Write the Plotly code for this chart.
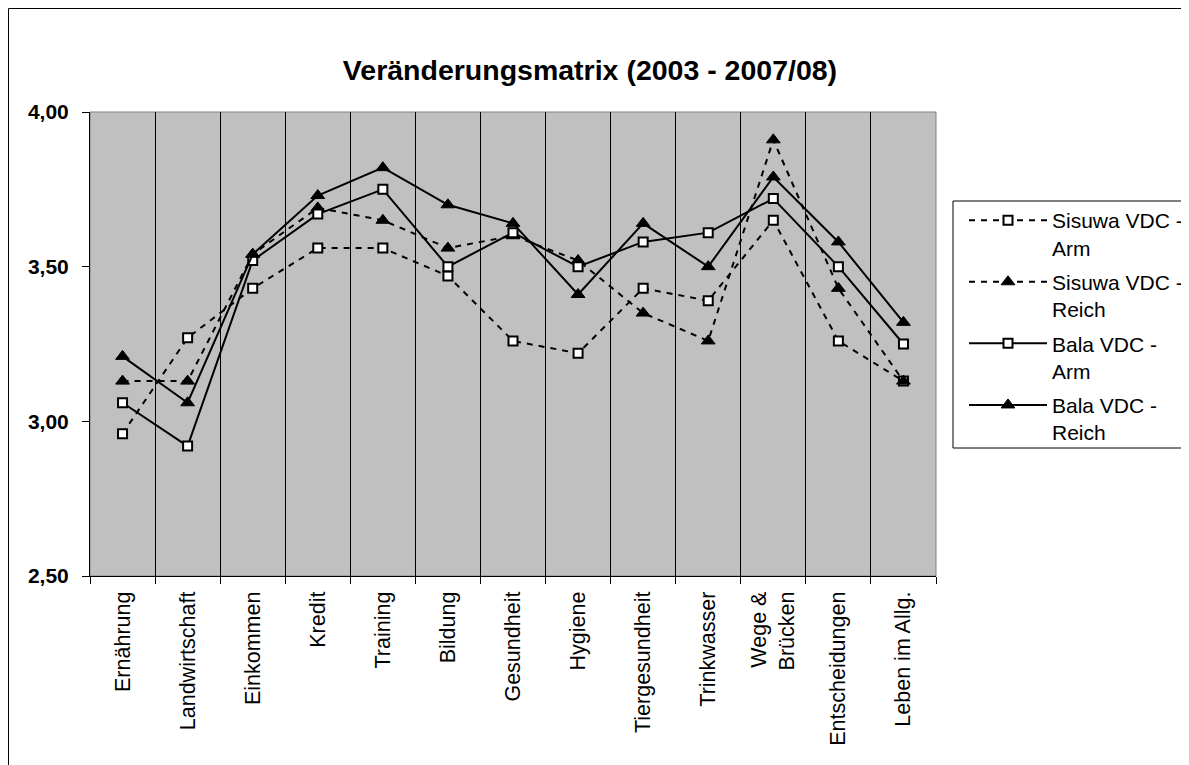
import plotly.graph_objects as go

# categories on the x axis
categories = [
    "Ernährung", "Landwirtschaft", "Einkommen", "Kredit", "Training",
    "Bildung", "Gesundheit", "Hygiene", "Tiergesundheit", "Trinkwasser",
    "Wege &<br>Brücken", "Entscheidungen", "Leben im Allg.",
]

# series values
sisuwa_arm = [2.96, 3.27, 3.43, 3.56, 3.56, 3.47, 3.26, 3.22, 3.43, 3.39, 3.65, 3.26, 3.13]
sisuwa_reich = [3.13, 3.13, 3.54, 3.69, 3.65, 3.56, 3.60, 3.52, 3.35, 3.26, 3.91, 3.43, 3.13]
bala_arm = [3.06, 2.92, 3.52, 3.67, 3.75, 3.50, 3.61, 3.50, 3.58, 3.61, 3.72, 3.50, 3.25]
bala_reich = [3.21, 3.06, 3.54, 3.73, 3.82, 3.70, 3.64, 3.41, 3.64, 3.50, 3.79, 3.58, 3.32]

y_ticks = [2.5, 3.0, 3.5, 4.0]

FONT = "Arial, Liberation Sans, sans-serif"
# page has an 8px body margin, so figure coords = screen coords - 8;
# the figure runs past the window so the frame's right/bottom edges stay hidden
W, H = 1189, 765
L, R, T, B = 82, 261, 104, 197
PW, PH = W - L - R, H - T - B


def px_x(px):
    return (px - L) / PW


def px_y(py):
    return (H - B - py) / PH


square = dict(symbol="square", size=9, color="white", line=dict(color="black", width=2))
triangle = dict(symbol="triangle-up", size=12, color="black", line=dict(color="black", width=1))

series = [
    ("Sisuwa VDC -<br>Arm", sisuwa_arm, "6px,6px", square),
    ("Sisuwa VDC -<br>Reich", sisuwa_reich, "6px,6px", triangle),
    ("Bala VDC -<br>Arm", bala_arm, "solid", square),
    ("Bala VDC -<br>Reich", bala_reich, "solid", triangle),
]

fig = go.Figure()
for i, (name, values, dash, marker) in enumerate(series):
    fig.add_trace(
        go.Scatter(
            x=categories,
            y=values,
            name=name,
            legendgroup=f"g{i}",
            mode="lines+markers",
            line=dict(color="black", width=2, dash=dash),
            marker=marker,
        )
    )

# outer chart frame (cut off at right/bottom) and legend frame
fig.add_shape(
    type="rect", xref="paper", yref="paper",
    x0=px_x(0.5), x1=px_x(1250), y0=px_y(820), y1=px_y(0.5),
    line=dict(color="black", width=1), fillcolor="rgba(0,0,0,0)", layer="below",
)
fig.add_shape(
    type="rect", xref="paper", yref="paper",
    x0=px_x(945), x1=px_x(1250), y0=px_y(440), y1=px_y(193),
    line=dict(color="black", width=1), fillcolor="white",
)
# gray border of plot area
fig.add_shape(
    type="rect", xref="paper", yref="paper",
    x0=0, x1=1, y0=0, y1=1,
    line=dict(color="#808080", width=1), fillcolor="rgba(0,0,0,0)", layer="below",
)

fig.update_layout(
    width=W,
    height=H,
    margin=dict(l=L, r=R, t=T, b=B),
    paper_bgcolor="white",
    plot_bgcolor="#C0C0C0",
    separators=",.",
    font=dict(family=FONT, color="black"),
    title=dict(
        text="<b>Veränderungsmatrix (2003 - 2007/08)</b>",
        font=dict(size=28.5, family=FONT, color="black"),
        xref="container", x=582 / W, xanchor="center",
        yref="container", y=1 - 62 / H, yanchor="middle",
    ),
    showlegend=True,
    legend=dict(
        xref="container", yref="container",
        x=956 / W, y=1 - 192 / H, xanchor="left", yanchor="top",
        bgcolor="rgba(0,0,0,0)",
        borderwidth=0,
        font=dict(size=21, family=FONT, color="black"),
        itemwidth=78,
        valign="top",
        tracegroupgap=4,
    ),
)

fig.update_xaxes(
    type="category",
    range=[-0.5, len(categories) - 0.5],
    tickson="boundaries",
    showgrid=True,
    gridcolor="black",
    gridwidth=1,
    showline=True,
    linecolor="black",
    linewidth=1,
    ticks="outside",
    ticklen=7,
    tickcolor="black",
    tickangle=-90,
    tickfont=dict(size=21.5, family=FONT, color="black"),
    ticklabelstandoff=6,
)

fig.update_yaxes(
    range=[2.5, 4.0],
    tickvals=y_ticks,
    tickformat=".2f",
    showgrid=False,
    zeroline=False,
    showline=True,
    linecolor="black",
    linewidth=1,
    ticks="outside",
    ticklen=7,
    tickcolor="black",
    tickfont=dict(size=21, family=FONT, color="black", weight="bold"),
    ticklabelstandoff=9,
)

fig.write_html("out.html")
